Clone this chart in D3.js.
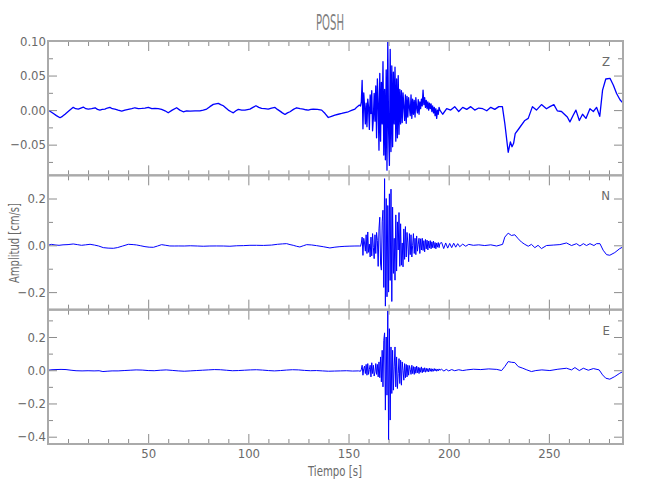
<!DOCTYPE html>
<html><head><meta charset="utf-8">
<script src="https://cdn.jsdelivr.net/npm/d3@7"></script>
<style>
body{margin:0;background:#fff}
svg{display:block}
text{font-family:"Liberation Sans Narrow","DejaVu Sans Condensed","Liberation Sans",sans-serif;fill:#6a6a6a}
</style>
</head><body>
<svg id="c" width="650" height="500"></svg>
<script>
// ---------------- data ----------------
const chartTitle = "POSH";
const xTitle = "Tiempo [s]";
const yTitle = "Amplitud [cm/s]";
const channelNames = ["Z", "N", "E"];

const xDomain = [0, 287];
const xMajorTicks = [50, 100, 150, 200, 250];
const xMinorTicks = [10,20,30,40,60,70,80,90,110,120,130,140,160,170,180,190,210,220,230,240,260,270,280];

const zDomain = [-0.0944, 0.100];
const zTicks = [-0.05, 0, 0.05, 0.10];
const zTickLabels = ["\u22120.05", "0.00", "0.05", "0.10"];
const zMinor = [-0.075, -0.025, 0.025, 0.075];

const nDomain = [-0.275, 0.299];
const nTicks = [-0.2, 0, 0.2];
const nTickLabels = ["\u22120.2", "0.0", "0.2"];
const nMinor = [-0.1, 0.1];

const eDomain = [-0.444, 0.3645];
const eTicks = [-0.4, -0.2, 0, 0.2];
const eTickLabels = ["\u22120.4", "\u22120.2", "0.0", "0.2"];
const eMinor = [-0.3, -0.1, 0.1, 0.3];

// strong-motion section sampled every burstStep seconds from burstStart
const burstStart = 156.0;
const burstStep = 0.4;

// Z component: [time, value]
const zPre = [[0,0],[1.2,-0.002],[2.7,-0.005],[4.2,-0.008],[6,-0.011],[7.2,-0.009],[8.5,-0.006],[10.5,-0.001],[12.6,0.004],[13.8,0.002],[15.1,0.0015],[16.4,0.003],[17.6,0.0044],[18.9,0.002],[20.1,0.0015],[21.8,0.002],[23.5,0.0034],[24.7,0.001],[25.9,0],[27.1,0.001],[28.4,0.0015],[29.6,0.003],[30.9,0.0039],[32.1,0.002],[33.4,0.0015],[35,0.0],[36.8,-0.0015],[38.4,0.0],[40.1,0.001],[41.8,0.002],[43.4,0.0034],[45.1,0.002],[46.8,0.0024],[48.4,0.003],[50.1,0.0039],[51.8,0.002],[53.4,0.0024],[55,0.002],[56.7,0.001],[58.4,-0.001],[60,-0.0039],[62,0.0],[64.2,0.0034],[65.8,0.0],[67.5,-0.0024],[69.2,-0.001],[70.9,-0.0015],[73.4,-0.001],[75.8,-0.001],[77.5,0.0],[79.2,0.0015],[80.8,0.005],[82.5,0.0083],[85,0.0097],[86.2,0.008],[87.5,0.0063],[88.8,0.003],[90,0],[91.2,-0.002],[92.5,-0.0039],[93.8,-0.001],[95,0.001],[96.7,0.0],[98.3,0],[100.8,0.0015],[102.3,0.004],[103.8,0.0063],[105.2,0.004],[106.6,0.0024],[108.2,0.002],[109.9,0.0015],[111.6,0.003],[113.3,0.0039],[114.5,0.001],[115.8,-0.0015],[117,-0.004],[118.3,-0.0063],[119.5,-0.004],[120.8,-0.0024],[122.5,0.001],[124.1,0.0034],[125.8,0.002],[127.4,0.0015],[128.7,0.0005],[129.9,0],[131.2,0.001],[132.4,0.0015],[134.5,0.001],[136.6,0],[138.3,-0.005],[139.9,-0.0107],[141.5,-0.009],[143.2,-0.0073],[144.9,-0.006],[146.6,-0.0049],[148.2,-0.0035],[149.9,-0.0024],[151.5,-0.0005],[153.2,0.0015],[154.4,0.005],[155.4,0.0073]];
const zBurst = [0.006,0.012,0.043,-0.027,0.025,0.006,-0.02,0.01,-0.024,0.016,
  0.004,-0.028,0.022,-0.005,0.028,-0.03,-0.012,0.024,-0.016,0.035,
  -0.04,0.045,0.01,-0.058,0.053,-0.045,0.04,-0.02,0.07,-0.065,
  0.03,-0.072,0.058,-0.087,0.1,-0.03,-0.08,0.088,-0.06,0.064,
  -0.053,0.055,-0.02,0.062,-0.045,0.045,-0.04,0.05,-0.035,0.03,
  -0.02,0.028,-0.018,0.025,0.005,-0.015,0.022,-0.019,0.02,-0.01,
  0.018,0.004,-0.008,0.022,-0.012,0.016,-0.006,0.014,-0.01,0.018,
  0.003,-0.004,0.015,-0.006,0.012,0.002,0.016,0.006,0.029,0.008,
  0.018,0.004,0.014,0.002,0.012,0.0,0.01,0.002,0.009,-0.002,
  0.006,-0.004,0.004,-0.008,0.002,-0.012,0.0,-0.006,0.004,0.0];
const zPost = [[197,-0.006],[199,0.002],[201,0.0],[203,0.005],[205,-0.002],[207,0.004],[209,0.001],[211,0.005],[213,0.0],[215,0.003],[217,0.002],[219,-0.001],[221,0.004],[223,0.001],[225,0.005],[226.8,0.005],[228,-0.019],[229.7,-0.061],[230.8,-0.046],[231.6,-0.053],[232.4,-0.048],[233.2,-0.034],[235,-0.027],[238,-0.015],[239.7,-0.012],[241.8,0.005],[243.8,0.0],[246.3,0.008],[248.8,0.002],[250.5,0.005],[252.5,0.008],[254.2,-0.001],[256.3,-0.002],[259.2,-0.01],[260.5,-0.017],[262.2,-0.007],[263.5,0.0],[265.2,-0.015],[266.8,-0.006],[268.5,-0.012],[270.5,0.002],[272.2,-0.002],[273.8,0.004],[275.4,-0.009],[276.8,0.029],[278.4,0.045],[280.5,0.046],[282.2,0.036],[283.8,0.024],[285.5,0.015],[287,0.01]];

// N component
const nPre = [[0,0],[1.7,0.004],[3.5,0.0015],[5.5,0],[7.5,0.002],[10,0.003],[12.6,0.0057],[14.6,0.003],[16.7,0],[18.8,0.002],[21,0.0043],[23.2,0.001],[25.3,-0.003],[27.6,-0.0099],[30,-0.012],[32.6,-0.0128],[34.6,-0.0099],[37.3,-0.003],[40.1,0.0043],[42.5,0.003],[44.2,0.0015],[46.3,-0.002],[48.4,-0.0057],[50.5,-0.008],[52.6,-0.0085],[54.7,-0.003],[56.7,0.0028],[58.8,0.0],[60.8,-0.0028],[63,-0.003],[65,-0.0028],[68,-0.003],[71,-0.002],[74.5,-0.003],[77.5,-0.004],[80.8,-0.003],[84,-0.0028],[87.5,-0.003],[90.8,-0.004],[94.2,-0.002],[97.5,-0.0014],[100.8,0],[104,0.0],[107.5,-0.0005],[111.6,0.001],[114.5,0.0043],[117,0.006],[119.1,0.0071],[120.8,0.003],[122.4,0],[124,-0.004],[125.7,-0.0071],[127.4,-0.002],[129.1,0.0028],[131.6,0.0015],[134,-0.0014],[137.4,-0.006],[140.7,-0.0113],[143.2,-0.008],[145.7,-0.0057],[148.2,-0.0043],[150.7,-0.0035],[153.2,-0.003],[155.4,-0.0028]];
const nBurst = [-0.004,0.01,0.035,-0.043,0.03,0.01,-0.025,0.045,-0.035,0.057,
  -0.03,0.005,-0.05,0.035,-0.045,0.05,-0.01,-0.057,0.045,-0.035,
  0.055,0.02,-0.09,0.07,0.12,-0.08,-0.106,0.1,0.15,-0.18,
  0.285,-0.26,0.2,-0.22,0.17,-0.2,0.22,-0.15,0.24,-0.24,
  0.163,-0.12,0.03,-0.149,0.13,-0.11,0.1,-0.02,0.14,-0.09,
  0.092,-0.085,0.01,-0.092,0.07,-0.06,0.08,-0.05,0.055,0.01,
  -0.07,0.05,-0.04,0.045,-0.05,0.0,0.05,-0.035,0.03,-0.04,
  0.04,-0.025,0.005,0.03,-0.035,0.028,-0.02,0.03,-0.022,0.02,
  -0.028,0.025,-0.015,0.022,-0.02,0.018,-0.012,0.02,-0.015,0.015,
  -0.01,0.018,-0.012,0.012,-0.015,0.01,-0.008,0.012,-0.01,0.008];
const nPost = [[196.5,0.012],[197.5,-0.014],[198.5,0.01],[199.5,-0.012],[200.5,0.008],[201.5,-0.01],[202.5,0.009],[203.5,-0.008],[204.5,0.007],[205.5,-0.006],[207,0.005],[208.5,-0.004],[210,0.004],[212.3,0.0],[215,0.002],[218,-0.001],[221,0.002],[223.9,-0.003],[226.9,0.004],[228,0.035],[229.7,0.052],[231.3,0.042],[233,0.045],[234.7,0.028],[236.3,0.014],[238,0.004],[239.7,-0.004],[241.3,0.004],[243,-0.01],[244.6,0.0],[246.3,-0.014],[248.8,-0.001],[252.2,0.001],[255.5,0.003],[258.8,0.01],[261.3,-0.001],[263.8,0.007],[265.5,-0.003],[267.2,0.007],[268.8,-0.001],[270.5,0.007],[272.5,-0.001],[273.8,0.007],[275.5,0.007],[277.1,-0.021],[278.8,-0.04],[280.4,-0.0425],[282.9,-0.031],[285.4,-0.014],[287,-0.007]];

// E component
const ePre = [[0,0],[2,0.003],[4,0.004],[6.5,0.005],[9,0.004],[11.5,0.0],[14,-0.003],[17,-0.004],[20,-0.003],[23,-0.004],[25.5,-0.003],[27.4,-0.008],[29.5,-0.006],[32,-0.004],[35,-0.004],[38,-0.002],[41,0.0],[44,0.002],[47,0.001],[50,-0.002],[53,-0.003],[56,0.0],[59,0.002],[62,-0.001],[65,-0.004],[68,-0.006],[71,-0.004],[74,-0.002],[77,0.0],[80,0.002],[83,0.004],[86,0.003],[89,0.0],[92,-0.003],[95,-0.002],[98,0.0],[101,0.002],[104,0.003],[107,0.001],[110,-0.002],[113,-0.004],[116,-0.002],[119,0.001],[122,0.003],[125,0.002],[128,-0.001],[131,-0.003],[134,-0.002],[137,-0.004],[140,-0.006],[143,-0.005],[146,-0.004],[149,-0.003],[152,-0.005],[155,-0.004]];
const eBurst = [-0.006,0.005,0.03,-0.03,0.01,0.025,-0.02,0.035,-0.03,0.04,
  -0.025,0.005,0.03,-0.04,0.045,-0.02,0.03,-0.035,-0.01,0.04,
  -0.025,0.035,-0.04,0.05,-0.045,0.08,-0.07,0.12,-0.1,0.18,
  0.225,-0.24,0.2,-0.15,0.358,-0.42,0.25,-0.3,0.14,-0.14,
  0.12,-0.12,0.02,0.14,-0.1,0.08,-0.11,-0.02,0.07,-0.08,
  0.06,-0.09,0.05,0.0,-0.06,0.04,-0.045,0.035,-0.04,0.03,
  -0.03,0.028,0.005,-0.025,0.03,-0.02,0.022,-0.025,0.02,-0.018,
  0.025,-0.015,0.018,-0.02,0.015,-0.012,0.02,-0.015,0.012,-0.01,
  0.015,-0.012,0.012,-0.008,0.01,-0.01,0.012,-0.006,0.01,-0.008,
  0.008,-0.006,0.01,-0.004,0.008,-0.006,0.006,-0.004,0.008,0.0];
const ePost = [[196.4,0.006],[197.6,-0.005],[198.8,0.005],[200,-0.004],[201.5,0.004],[203,-0.003],[205,0.003],[207,-0.002],[209,0.002],[212.3,0.006],[216,0.004],[220,0.008],[224,0.005],[226.4,-0.002],[228,0.022],[229.7,0.052],[231.3,0.048],[233,0.046],[234.7,0.022],[237,0.012],[239,0.002],[241.3,-0.008],[243.5,-0.002],[246.5,0.002],[250.5,-0.002],[254.5,0.006],[258.8,0.012],[261.3,0.002],[263,0.016],[265.2,-0.002],[267.2,0.012],[269.7,0.0],[272.2,0.01],[275.1,0.002],[276.8,-0.028],[278.4,-0.048],[280.4,-0.054],[282.9,-0.038],[285.4,-0.018],[287,-0.008]];

// ---------------- drawing ----------------
const W = 650, H = 500;
const plotLeft = 48, plotRight = 623, plotTop = 41, plotBottom = 444;
const panelH = (plotBottom - plotTop) / 3;
const axisColor = "#aaaaaa", tickColor = "#8c8c8c", lineColor = "#0000ff";

const svg = d3.select("#c");
svg.append("rect").attr("width", W).attr("height", H).attr("fill", "#fff");

const x = d3.scaleLinear().domain(xDomain).range([plotLeft, plotRight]);

function assemble(pre, burst, post) {
  const b = burst.map((v, i) => [burstStart + i * burstStep, v]);
  return pre.concat(b, post);
}

const panels = [
  {name: channelNames[0], domain: zDomain, ticks: zTicks, labels: zTickLabels, minor: zMinor, data: assemble(zPre, zBurst, zPost), sw: 1.3},
  {name: channelNames[1], domain: nDomain, ticks: nTicks, labels: nTickLabels, minor: nMinor, data: assemble(nPre, nBurst, nPost), sw: 1},
  {name: channelNames[2], domain: eDomain, ticks: eTicks, labels: eTickLabels, minor: eMinor, data: assemble(ePre, eBurst, ePost), sw: 1}
];

function styleAxis(g) {
  g.select(".domain").remove();
  g.selectAll(".tick line").attr("stroke", tickColor).attr("stroke-width", 1);
  g.selectAll(".tick text").attr("fill", "#6a6a6a")
    .style("font-family", "'Liberation Sans Narrow','DejaVu Sans Condensed','Liberation Sans',sans-serif")
    .style("font-size", "13px");
}

panels.forEach((p, k) => {
  const y0 = plotTop + k * panelH, y1 = y0 + panelH;
  const y = d3.scaleLinear().domain(p.domain).range([y1, y0]);
  const g = svg.append("g");

  const clipId = "clip" + k;
  svg.append("clipPath").attr("id", clipId).append("rect")
    .attr("x", plotLeft).attr("y", y0).attr("width", plotRight - plotLeft).attr("height", panelH);

  const line = d3.line().x(d => x(d[0])).y(d => y(d[1]));
  g.append("path").datum(p.data).attr("d", line)
    .attr("fill", "none").attr("stroke", lineColor).attr("stroke-width", p.sw)
    .attr("stroke-linejoin", "round").attr("clip-path", `url(#${clipId})`);

  g.append("g").attr("transform", `translate(${plotLeft},0)`)
    .call(d3.axisLeft(y).tickValues(p.ticks).tickSize(-9).tickSizeOuter(0).tickPadding(2)
      .tickFormat((d, i) => p.labels[i])).call(styleAxis);
  g.append("g").attr("transform", `translate(${plotLeft},0)`)
    .call(d3.axisLeft(y).tickValues(p.minor).tickSize(-5).tickSizeOuter(0).tickFormat("")).call(styleAxis);
  g.append("g").attr("transform", `translate(${plotRight},0)`)
    .call(d3.axisRight(y).tickValues(p.ticks).tickSize(-9).tickSizeOuter(0).tickFormat("")).call(styleAxis);
  g.append("g").attr("transform", `translate(${plotRight},0)`)
    .call(d3.axisRight(y).tickValues(p.minor).tickSize(-5).tickSizeOuter(0).tickFormat("")).call(styleAxis);

  g.append("g").attr("transform", `translate(0,${y0})`)
    .call(d3.axisTop(x).tickValues(xMajorTicks).tickSize(-10).tickSizeOuter(0).tickFormat("")).call(styleAxis);
  g.append("g").attr("transform", `translate(0,${y0})`)
    .call(d3.axisTop(x).tickValues(xMinorTicks).tickSize(-5).tickSizeOuter(0).tickFormat("")).call(styleAxis);
  const bot = d3.axisBottom(x).tickValues(xMajorTicks).tickSize(-10).tickSizeOuter(0).tickPadding(5);
  if (k < 2) bot.tickFormat("");
  g.append("g").attr("transform", `translate(0,${y1})`).call(bot).call(styleAxis);
  g.append("g").attr("transform", `translate(0,${y1})`)
    .call(d3.axisBottom(x).tickValues(xMinorTicks).tickSize(-5).tickSizeOuter(0).tickFormat("")).call(styleAxis);

  g.append("rect").attr("x", plotLeft).attr("y", y0).attr("width", plotRight - plotLeft).attr("height", panelH)
    .attr("fill", "none").attr("stroke", axisColor).attr("stroke-width", 2);

  g.append("text").attr("x", 610).attr("y", y0 + 25).attr("text-anchor", "end")
    .style("font-size", "13px").text(p.name);
});

svg.append("text").attr("x", 330).attr("y", 30).attr("text-anchor", "middle")
  .attr("textLength", 28).attr("lengthAdjust", "spacingAndGlyphs")
  .style("font-size", "21px").style("fill", "#808080").text(chartTitle);
svg.append("text").attr("x", 335).attr("y", 476).attr("text-anchor", "middle")
  .attr("textLength", 54).attr("lengthAdjust", "spacingAndGlyphs")
  .style("font-size", "13.5px").text(xTitle);
svg.append("text").attr("transform", "translate(19,243) rotate(-90)").attr("text-anchor", "middle")
  .attr("textLength", 80).attr("lengthAdjust", "spacingAndGlyphs")
  .style("font-size", "13.5px").text(yTitle);
</script>
</body></html>
